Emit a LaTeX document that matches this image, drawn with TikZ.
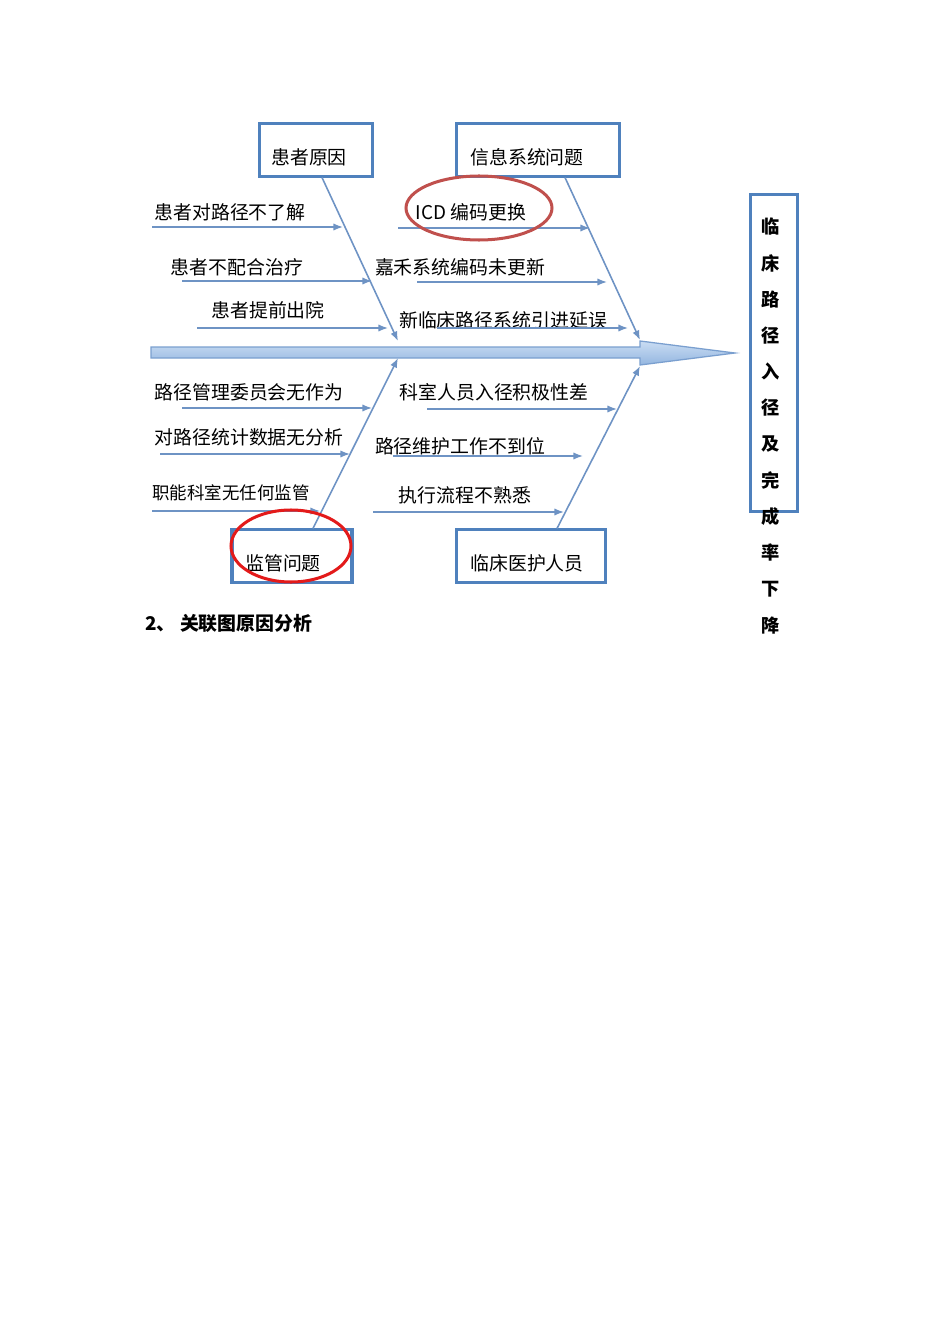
\documentclass[tikz,border=0pt]{standalone}
\usepackage{fontspec}
\setmainfont{Noto Sans CJK SC}
\usetikzlibrary{arrows.meta,calc}
\definecolor{boxblue}{HTML}{4F81BD}
\definecolor{boneblue}{HTML}{6E93C4}
\definecolor{spineline}{HTML}{7A9FCF}
\definecolor{spinelo}{HTML}{94B6E0}
\definecolor{spinehi}{HTML}{CADDF3}
\definecolor{darkred}{HTML}{C0504D}
\definecolor{brightred}{HTML}{E31A1A}
\begin{document}
\begin{tikzpicture}[x=0.63pt,y=-0.63pt,font=\fontsize{11.9pt}{14pt}\selectfont]
      \tikzset{cause/.style={draw=boxblue, line width=1.9pt, minimum height=32.8pt, minimum width=#1, inner sep=0pt}}
      \tikzset{bone/.style={draw=boneblue, line width=1pt, ->, >={Latex[length=6pt,width=4.6pt]}}}
      \tikzset{ring/.style={line width=1.9pt}}
      \useasboundingbox (0,0) rectangle (950,1344);
%% Boxes
	%hovedaarsager
      	\node[cause=71.8pt] (pa) at (316,150) {};
      	\node (pat) at (309,157) {患者原因};
      	\node[cause=102.1pt] (pb) at (538,150) {};
      	\node (pbt) at (527,157) {信息系统问题};
      	\node[cause=75.6pt] (pc) at (292,556) {};
      	\node (pct) at (283,563) {监管问题};
      	\node[cause=93.9pt] (pd) at (531,556) {};
      	\node (pdt) at (527,563) {临床医护人员};
	%resultat
      	\node[cause=30.2pt, minimum height=199.1pt] (res) at (774,353) {};
      	\foreach \c [count=\i from 0] in {临,床,路,径,入,径,及,完,成,率,下,降}
      		\node[font=\fontsize{11.5pt}{14pt}\selectfont\bfseries] (t\i) at (771,227+36.2*\i) {\c};
%% Spine
      \draw[draw=spineline, top color=spinehi, bottom color=spinelo, line width=0.8pt]
      	(151,347) -- (640,347) -- (640,341) -- (735,353) -- (640,365) -- (640,358) -- (151,358) -- cycle;
      \coordinate (ha) at (398,341);
      \coordinate (hb) at (640,340);
      \coordinate (hc) at (398,358);
      \coordinate (hd) at (640,366);
%% Bones
		\draw[bone] ($(pa.south)+(6,0)$) -- (ha);
		\draw[bone] ($(pb.south)+(27,0)$) -- (hb);
		\draw[bone] ($(pc.north)+(21,0)$) -- (hc);
		\draw[bone] ($(pd.north)+(26,0)$) -- (hd);
%% Causes
	%patient
		\node (a1) at (230,212) {患者对路径不了解};
		\coordinate (a1s) at (152,227); \coordinate (a1e) at (343,227);
		\draw[bone] (a1s) -- (a1e);
		\node (a2) at (237,267) {患者不配合治疗};
		\coordinate (a2s) at (182,281); \coordinate (a2e) at (372,281);
		\draw[bone] (a2s) -- (a2e);
		\node (a3) at (268,310) {患者提前出院};
		\coordinate (a3s) at (197,328); \coordinate (a3e) at (388,328);
		\draw[bone] (a3s) -- (a3e);
	%system
		\node (b1) at (471,212) {ICD 编码更换};
		\coordinate (b1s) at (398,228); \coordinate (b1e) at (590,228);
		\draw[bone] (b1s) -- (b1e);
		\node (b2) at (460,267) {嘉禾系统编码未更新};
		\coordinate (b2s) at (417,282); \coordinate (b2e) at (607,282);
		\draw[bone] (b2s) -- (b2e);
		\node (b3) at (503,320) {新临床路径系统引进延误};
		\coordinate (b3s) at (437,328); \coordinate (b3e) at (628,328);
		\draw[bone] (b3s) -- (b3e);
	%tilsyn
		\node (c1) at (249,392) {路径管理委员会无作为};
		\coordinate (c1s) at (182,408); \coordinate (c1e) at (372,408);
		\draw[bone] (c1s) -- (c1e);
		\node (c2) at (249,437) {对路径统计数据无分析};
		\coordinate (c2s) at (160,454); \coordinate (c2e) at (350,454);
		\draw[bone] (c2s) -- (c2e);
		\node[font=\fontsize{11pt}{14pt}\selectfont] (c3) at (231,493) {职能科室无任何监管};
		\coordinate (c3s) at (152,511); \coordinate (c3e) at (320,511);
		\draw[bone] (c3s) -- (c3e);
	%personale
		\node (d1) at (494,392) {科室人员入径积极性差};
		\coordinate (d1s) at (427,409); \coordinate (d1e) at (617,409);
		\draw[bone] (d1s) -- (d1e);
		\node (d2) at (460,446) {路径维护工作不到位};
		\coordinate (d2s) at (393,456); \coordinate (d2e) at (583,456);
		\draw[bone] (d2s) -- (d2e);
		\node (d3) at (465,495) {执行流程不熟悉};
		\coordinate (d3s) at (373,512); \coordinate (d3e) at (564,512);
		\draw[bone] (d3s) -- (d3e);
%% Markings
		\draw[ring, darkred] (479,208) ellipse (73 and 32);
		\draw[ring, brightred] (291,546) ellipse (60 and 36);
%% Caption
		\node[anchor=west, inner sep=0pt, font=\fontsize{11.9pt}{14pt}\selectfont\bfseries] (cap) at (145,623) {2、 关联图原因分析};
	\end{tikzpicture}
\end{document}
